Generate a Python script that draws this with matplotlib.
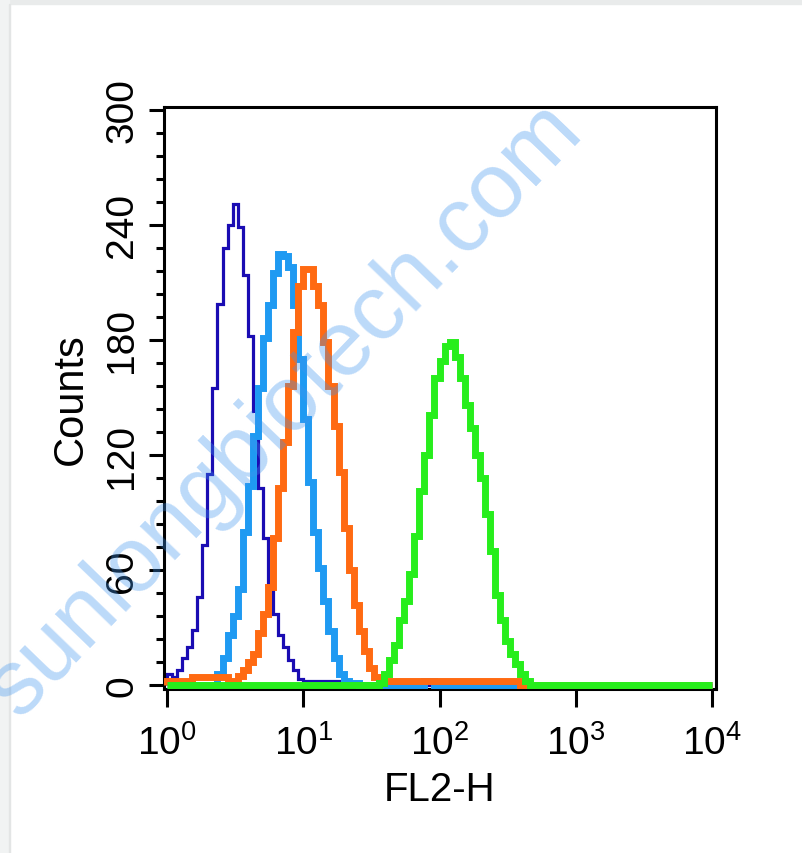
import numpy as np
import matplotlib
matplotlib.use('Agg')
import matplotlib.pyplot as plt
from matplotlib.ticker import FixedLocator, MultipleLocator, LogLocator, NullFormatter
from matplotlib.patches import Rectangle

plt.rcParams['font.family'] = ['Liberation Sans', 'DejaVu Sans']
plt.rcParams['mathtext.fontset'] = 'custom'
plt.rcParams['mathtext.rm'] = 'Liberation Sans'
plt.rcParams['mathtext.it'] = 'Liberation Sans'
plt.rcParams['mathtext.bf'] = 'Liberation Sans'

# histogram channels: 27 bins per decade over 4 decades (10^0 .. 10^4)
BINS_PER_DECADE = 27
NBINS = 4 * BINS_PER_DECADE

# counts per bin (start bin, values)
dark_blue_start = 0
dark_blue = [6, 4, 8, 14, 20, 29, 46, 73, 110, 155, 199, 228, 240, 251, 239,
             214, 182, 143, 103, 77, 52, 37, 26, 20, 13, 8, 3, 2, 2, 2, 2, 2,
             2, 2, 0, 0, 0, 0, 0, 0, 0, 0, 0, 0, 0, 0, 0, 0, 0, 0, 0, 0, 0, 0,
             2, 2, 2]

light_blue_start = 10
light_blue = [6, 14, 26, 36, 50, 80, 104, 130, 155, 181, 198, 215, 225, 224,
              218, 198, 170, 139, 106, 80, 61, 44, 28, 14, 6, 2, 1, 1,
              0, 0, 0, 0, 0, 0, 0, 0, 0, 0, 0, 0, 0, 2, 2]

orange_start = 0
orange = [2, 2, 2, 2, 2, 4, 4, 4, 4, 4, 4, 4, 2, 2, 5, 8, 12, 16, 27, 37, 51,
          77, 103, 127, 156, 184, 208, 217, 217, 208, 198, 179, 156, 135, 111,
          82, 60, 42, 28, 18, 9, 4,
          2, 2, 2, 2, 2, 2, 2, 2, 2, 2, 2, 2, 2, 2, 2, 2, 2, 2, 2, 2, 2, 2, 2,
          2, 2, 2, 2, 2]

green_start = 42
green = [1, 6, 13, 21, 34, 44, 58, 78, 101, 120, 141, 160, 169, 177, 179, 171,
         160, 146, 134, 120, 108, 89, 70, 47, 34, 23, 16, 11, 6, 2]

y_ticks = [0, 60, 120, 180, 240, 300]
x_ticks = [1, 10, 100, 1000, 10000]
x_tick_labels = [r'$10^{0}$', r'$10^{1}$', r'$10^{2}$', r'$10^{3}$', r'$10^{4}$']

series = [
    (dark_blue_start, dark_blue, '#1a0cb3', 2.3, 2),
    (light_blue_start, light_blue, '#1f9af2', 5.0, 3),
    (orange_start, orange, '#ff6a12', 5.0, 4),
    (green_start, green, '#27ee1c', 5.0, 5),
]


def place(start, vals):
    arr = np.zeros(NBINS)
    arr[start:start + len(vals)] = vals
    return arr


edges = 10.0 ** (np.arange(NBINS + 1) / BINS_PER_DECADE)

fig = plt.figure(figsize=(8.03, 8.54), dpi=100)

# light grey frame of the screenshot (top and left)
fig.patches.append(Rectangle((0, 1 - 5 / 854), 1, 5 / 854, transform=fig.transFigure,
                             color='#e9ebeb', zorder=0))
fig.patches.append(Rectangle((0, 0), 9 / 803, 1, transform=fig.transFigure,
                             color='#f1f3f3', zorder=0))
fig.patches.append(Rectangle((9 / 803, 0), 1.5 / 803, 1 - 5 / 854, transform=fig.transFigure,
                             color='#e3e5e5', zorder=0))

ax = fig.add_axes([164 / 803, 164 / 854, 552 / 803, 582 / 854])

for start, vals, color, lw, z in series:
    ax.stairs(place(start, vals), edges, color=color, linewidth=lw, zorder=z)

ax.set_xscale('log')
ax.set_xlim(10 ** -0.022, 10 ** 4.029)
ax.set_ylim(-2, 301.5)

ax.xaxis.set_major_locator(FixedLocator(x_ticks))
ax.set_xticklabels(x_tick_labels)
ax.xaxis.set_minor_locator(LogLocator(base=10, subs=np.arange(2, 10)))
ax.xaxis.set_minor_formatter(NullFormatter())
ax.yaxis.set_major_locator(FixedLocator(y_ticks))
ax.yaxis.set_minor_locator(MultipleLocator(12))

for s in ax.spines.values():
    s.set_linewidth(2.2)

ax.tick_params(axis='both', which='both', direction='out', width=2.2,
               top=False, right=False)
ax.tick_params(axis='x', which='major', length=13, pad=12, labelsize=28)
ax.tick_params(axis='x', which='minor', length=7)
ax.tick_params(axis='y', which='major', length=11, pad=6, labelsize=28,
               labelrotation=90)
ax.tick_params(axis='y', which='minor', length=6)
for lab in ax.get_yticklabels():
    lab.set_va('center')

ax.set_xlabel('FL2-H', fontsize=29, labelpad=6)
ax.set_ylabel('Counts', fontsize=30, labelpad=10)

# watermark
fig.text(285 / 803, 1 - 410 / 854, 'sunlongbiotech.com', fontsize=66,
         rotation=46, color='#3f94ee', alpha=0.35, ha='center', va='center',
         rotation_mode='anchor', zorder=10)

fig.savefig('out.png', dpi=100)
